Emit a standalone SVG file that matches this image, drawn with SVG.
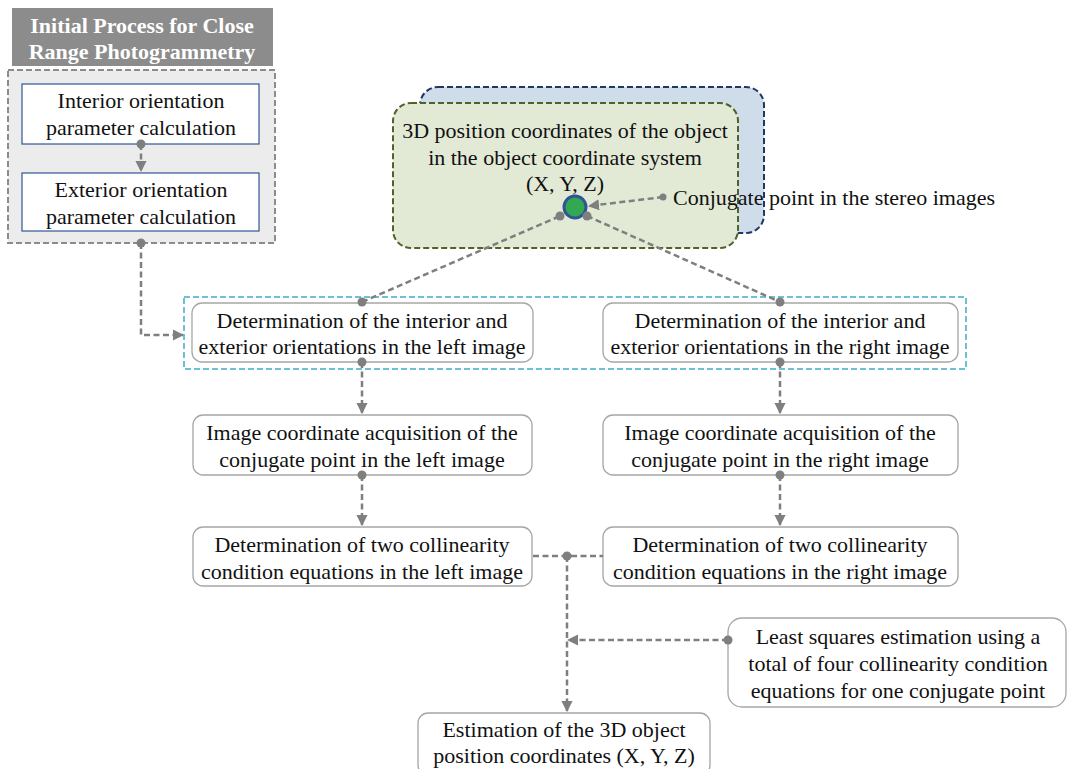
<svg xmlns="http://www.w3.org/2000/svg" width="1068" height="769" viewBox="0 0 1068 769">
<defs>
<marker id="arr" viewBox="0 0 10 10" refX="9" refY="5" markerWidth="4.5" markerHeight="4.5" orient="auto"><path d="M0,0 L10,5 L0,10 z" fill="#7f7f7f"/></marker>
<style>
.t{font-family:"Liberation Serif","Times New Roman",serif;font-size:22px;fill:#111;text-anchor:middle}
.h{font-family:"Liberation Serif","Times New Roman",serif;font-size:22px;font-weight:bold;fill:#fff;text-anchor:middle}
.box{fill:#fff;stroke:#a6a6a6;stroke-width:1.3}
.bbox{fill:#fff;stroke:#2f5597;stroke-width:1.2}
.c{fill:none;stroke:#7f7f7f;stroke-width:2.5;stroke-dasharray:6,3.5}
.d{fill:#7f7f7f}
</style>
</defs>
<rect width="1068" height="769" fill="#fff"/>
<g id="init-group">
<rect x="12" y="8" width="261" height="58" fill="#8c8c8c"/>
<text class="h" x="142" y="33">Initial Process for Close</text>
<text class="h" x="142" y="59">Range Photogrammetry</text>
<rect x="8" y="70" width="267" height="173" fill="#ececec" stroke="#8c8c8c" stroke-width="2" stroke-dasharray="6,3"/>
</g>
<g id="interior">
<rect class="bbox" x="22" y="84" width="237" height="60"/>
<text class="t" x="141" y="108">Interior orientation</text>
<text class="t" x="141" y="135">parameter calculation</text>
</g>
<g id="exterior">
<rect class="bbox" x="22" y="173" width="237" height="58"/>
<text class="t" x="141" y="197">Exterior orientation</text>
<text class="t" x="141" y="224">parameter calculation</text>
</g>
<g id="object-coords">
<rect x="420" y="87" width="344" height="146" rx="18" fill="#cfdcea" stroke="#203864" stroke-width="2" stroke-dasharray="6,3"/>
<rect x="393" y="103" width="345" height="145" rx="18" fill="#e2ead6" stroke="#4f6228" stroke-width="2" stroke-dasharray="6,3"/>
<text class="t" x="565" y="138">3D position coordinates of the object</text>
<text class="t" x="565" y="165">in the object coordinate system</text>
<text class="t" x="565" y="191">(X, Y, Z)</text>
<circle cx="575" cy="207" r="11" fill="#33a852" stroke="#2f5597" stroke-width="3"/>
</g>
<g id="conj-label">
<text x="673" y="205" style="font-family:'Liberation Serif','Times New Roman',serif;font-size:22px;fill:#111">Conjugate point in the stereo images</text>
</g>
<g id="orient-group">
<rect x="184" y="297" width="782" height="72" fill="none" stroke="#6ec1d2" stroke-width="2" stroke-dasharray="6,3"/>
</g>
<g id="left-orient">
<rect class="box" x="192" y="303" width="341" height="59" rx="10"/>
<text class="t" x="362" y="328">Determination of the interior and</text>
<text class="t" x="362" y="354">exterior orientations in the left image</text>
</g>
<g id="right-orient">
<rect class="box" x="603" y="303" width="355" height="59" rx="10"/>
<text class="t" x="780" y="328">Determination of the interior and</text>
<text class="t" x="780" y="354">exterior orientations in the right image</text>
</g>
<g id="left-image">
<rect class="box" x="193" y="415" width="339" height="60" rx="10"/>
<text class="t" x="362" y="440">Image coordinate acquisition of the</text>
<text class="t" x="362" y="467">conjugate point in the left image</text>
</g>
<g id="right-image">
<rect class="box" x="603" y="415" width="355" height="60" rx="10"/>
<text class="t" x="780" y="440">Image coordinate acquisition of the</text>
<text class="t" x="780" y="467">conjugate point in the right image</text>
</g>
<g id="left-coll">
<rect class="box" x="193" y="527" width="339" height="59" rx="10"/>
<text class="t" x="362" y="552">Determination of two collinearity</text>
<text class="t" x="362" y="579">condition equations in the left image</text>
</g>
<g id="right-coll">
<rect class="box" x="603" y="527" width="355" height="59" rx="10"/>
<text class="t" x="780" y="552">Determination of two collinearity</text>
<text class="t" x="780" y="579">condition equations in the right image</text>
</g>
<g id="least-squares">
<rect class="box" x="728" y="618" width="338" height="89" rx="14"/>
<text class="t" x="898" y="644">Least  squares estimation using a</text>
<text class="t" x="898" y="671">total of four collinearity condition</text>
<text class="t" x="898" y="698">equations for one conjugate point</text>
</g>
<g id="estimation">
<rect class="box" x="418" y="713" width="292" height="62" rx="10"/>
<text class="t" x="564" y="737">Estimation of the 3D object</text>
<text class="t" x="564" y="763">position coordinates  (X, Y, Z)</text>
</g>
<g id="connectors">
<path class="c" d="M141,144 V171" marker-end="url(#arr)"/>
<path class="c" d="M141,243 V335 H183" marker-end="url(#arr)"/>
<path class="c" d="M663,197 L589,206" marker-end="url(#arr)"/>
<path class="c" d="M362,302 L560,216"/>
<path class="c" d="M587,216 L780,302"/>
<path class="c" d="M362,362 V413" marker-end="url(#arr)"/>
<path class="c" d="M780,362 V413" marker-end="url(#arr)"/>
<path class="c" d="M362,475 V525" marker-end="url(#arr)"/>
<path class="c" d="M780,475 V525" marker-end="url(#arr)"/>
<path class="c" d="M533,556 H603"/>
<path class="c" d="M567,556 V711" marker-end="url(#arr)"/>
<path class="c" d="M728,640 H568" marker-end="url(#arr)"/>
<circle class="d" cx="141" cy="144" r="4.5"/>
<circle class="d" cx="141" cy="243" r="4.5"/>
<circle class="d" cx="663" cy="197" r="3.5"/>
<circle class="d" cx="560" cy="216" r="4.5"/>
<circle class="d" cx="587" cy="216" r="4.5"/>
<circle class="d" cx="362" cy="302" r="4.5"/>
<circle class="d" cx="780" cy="302" r="4.5"/>
<circle class="d" cx="362" cy="362" r="4.5"/>
<circle class="d" cx="780" cy="362" r="4.5"/>
<circle class="d" cx="362" cy="475" r="4.5"/>
<circle class="d" cx="780" cy="475" r="4.5"/>
<circle class="d" cx="567" cy="556" r="4.5"/>
<circle class="d" cx="728" cy="640" r="4.5"/>
</g>
</svg>
